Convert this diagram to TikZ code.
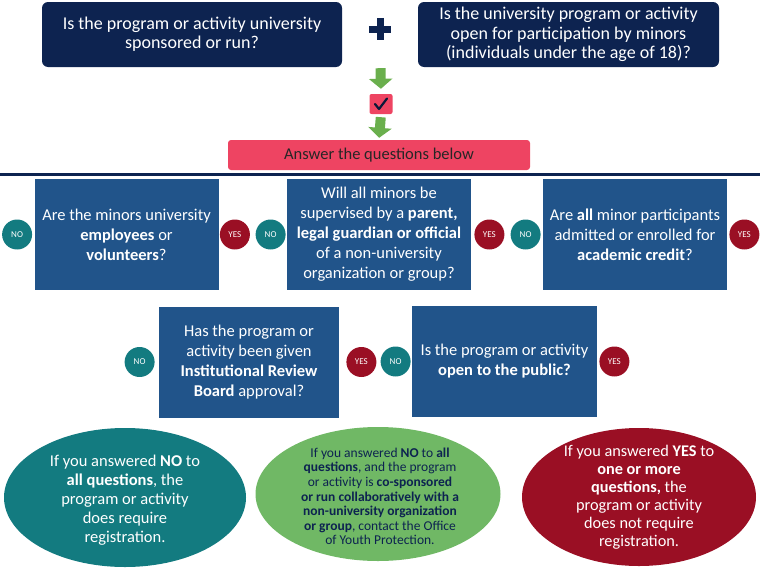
\documentclass[tikz,border=0pt]{standalone}
\usepackage{fontspec}
\setmainfont{Carlito}
\usepackage{tikz}
\usetikzlibrary{positioning,arrows.meta,shapes.geometric}

\definecolor{navy}{RGB}{13,35,80}
\definecolor{qblue}{RGB}{33,84,138}
\definecolor{noteal}{RGB}{19,123,128}
\definecolor{yesred}{RGB}{154,15,36}
\definecolor{ovgreen}{RGB}{112,184,101}
\definecolor{barpink}{RGB}{238,68,98}
\definecolor{argreen}{RGB}{106,175,77}

\begin{document}
\begin{tikzpicture}[x=1pt,y=-1pt,node distance=2pt,>=Stealth,
    topbox/.style={fill=navy,text=white,rounded corners=6pt,minimum width=300pt,minimum height=65pt,align=center,font=\fontsize{18}{19.3}\selectfont},
    qbox/.style={fill=qblue,text=white,minimum width=184pt,minimum height=111pt,align=center,inner sep=2pt,font=\fontsize{16.5}{20}\selectfont},
    nobtn/.style={circle,fill=noteal,text=white,minimum size=30pt,inner sep=0pt,font=\fontsize{9}{10}\selectfont},
    yesbtn/.style={circle,fill=yesred,text=white,minimum size=30pt,inner sep=0pt,font=\fontsize{9}{10}\selectfont},
    oval/.style={ellipse,inner sep=0pt},
    ovaltext/.style={align=center,inner sep=0pt},
    grarrow/.style={argreen,line width=10pt,-{Triangle[width=23pt,length=10pt]}}]
    \useasboundingbox (0,0) rectangle (760,570);

    % top questions
    \node[topbox] (sponsor) at (192,34.5) {Is the program or activity university\\sponsored or run?};
    \node[topbox,minimum width=301pt] (minors) at (568.5,34.5) {Is the university program or activity\\open for participation by minors\\(individuals under the age of 18)?};
    \node[minimum size=22pt,inner sep=0pt] (plus) at (380,29) {};
    \draw[navy,line width=7pt] (plus.north) -- (plus.south);
    \draw[navy,line width=7pt] (plus.west) -- (plus.east);

    \node[fill=barpink,minimum width=23pt,minimum height=20pt,inner sep=0pt,rounded corners=2pt] (check) at (381,104) {};
    \draw[navy!70!black,line width=2.2pt,line join=round,line cap=round]
      ([shift={(-6,0)}]check.center) -- ([shift={(-2,5)}]check.center) -- ([shift={(6,-5.5)}]check.center);
    \node[fill=barpink,rounded corners=3pt,minimum width=302pt,minimum height=30pt,font=\fontsize{16.5}{18}\selectfont,text=black!85] (answer) at (379,155) {Answer the questions below};
    \draw[grarrow,shorten <=28pt,shorten >=5pt] (plus.south) -- (check.north);
    \draw[grarrow,shorten <=3pt,shorten >=2pt] (check.south) -- (answer.north);

    \draw[navy,line width=3pt] (0,174) -- (760,174);

    % first row
    \node[qbox] (qa) at (126.5,234.5) {Are the minors university\\\textbf{employees} or\\\textbf{volunteers}?};
    \node[qbox] (qb) at (379,234.5) {Will all minors be\\supervised by a \textbf{parent,}\\\textbf{legal guardian or official}\\of a non-university\\organization or group?};
    \node[qbox] (qc) at (635,234.5) {Are \textbf{all} minor participants\\admitted or enrolled for\\\textbf{academic credit}?};
    \node[nobtn,left=of qa] (noa) {NO};
    \node[yesbtn,right=1pt of qa] (yesa) {YES};
    \node[nobtn,left=1pt of qb] (nob) {NO};
    \node[yesbtn,right=3pt of qb] (yesb) {YES};
    \node[nobtn,left=of qc] (noc) {NO};
    \node[yesbtn,right=of qc] (yesc) {YES};

    % second row
    \node[qbox,minimum width=180pt] (qd) at (249,362) {Has the program or\\activity been given\\\textbf{Institutional Review}\\\textbf{Board} approval?};
    \node[qbox,minimum width=185pt] (qe) at (504.5,361.5) {Is the program or activity\\\textbf{open to the public?}};
    \node[nobtn,left=4pt of qd] (nod) {NO};
    \node[yesbtn,right=7pt of qd] (yesd) {YES};
    \node[nobtn,left=1pt of qe] (noe) {NO};
    \node[yesbtn,right=2pt of qe] (yese) {YES};

    % outcomes
    \node[oval,fill=noteal,minimum width=242pt,minimum height=139pt] (allno) at (125,497.5) {};
    \node[ovaltext,text=white,font=\fontsize{16.5}{19}\selectfont] (allnotxt) at (125,500) {If you answered \textbf{NO} to\\\textbf{all questions}, the\\program or activity\\does require\\registration.};
    \node[oval,fill=ovgreen,minimum width=245pt,minimum height=134pt] (cospon) at (378,494) {};
    \node[ovaltext,text=navy,font=\fontsize{13.5}{14.6}\selectfont] (cospontxt) at (380,496.5) {If you answered \textbf{NO} to \textbf{all}\\\textbf{questions}, and the program\\or activity is \textbf{co-sponsored}\\\textbf{or run collaboratively with a}\\\textbf{non-university organization}\\\textbf{or group}, contact the Office\\of Youth Protection.};
    \node[oval,fill=yesred,minimum width=234pt,minimum height=138pt] (anyyes) at (639,497) {};
    \node[ovaltext,text=white,font=\fontsize{16.3}{18}\selectfont] (anyyestxt) at (639,497) {If you answered \textbf{YES} to\\\textbf{one or more}\\\textbf{questions,} the\\program or activity\\does not require\\registration.};
\end{tikzpicture}
\end{document}
